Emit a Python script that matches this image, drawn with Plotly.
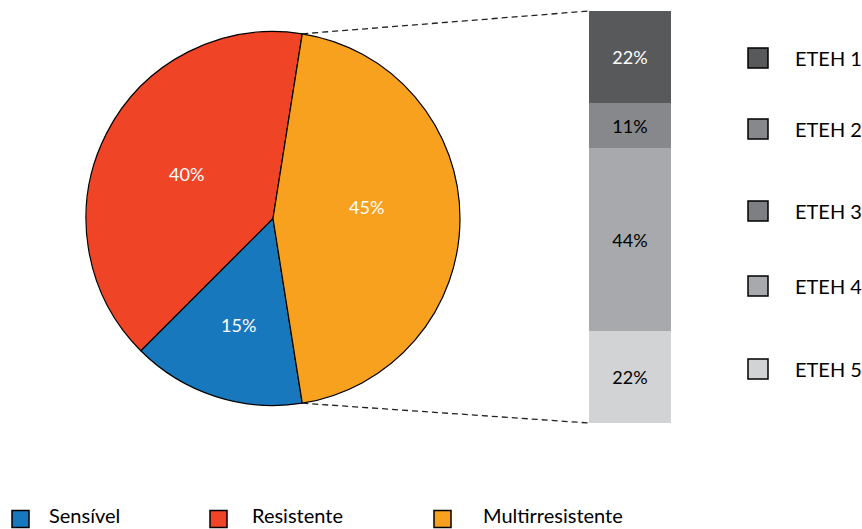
import math
import plotly.graph_objects as go

# Resistance profile of the isolates
profile_labels = ["Sensível", "Resistente", "Multirresistente"]
profile_values = [15, 40, 45]
profile_colors = ["#1878be", "#ef4526", "#f7a11f"]

# Breakdown of the multiresistant group by treatment plant
plant_labels = ["ETEH 1", "ETEH 2", "ETEH 3", "ETEH 4", "ETEH 5"]
plant_values = [22, 11, 0, 44, 22]
plant_colors = ["#58595b", "#86888b", "#7e7f83", "#a7a9ac", "#d1d3d4"]
plant_text_colors = ["white", "black", "black", "black", "black"]

W, H = 862, 529
FONT = "Lato"

def px_x(x):
    return x / W

def px_y(y):
    return 1 - y / H

# pie geometry (pixels)
PIE_CX, PIE_CY, PIE_R = 273, 218.5, 187
ROTATION = 171  # start angle of the first slice, clockwise from 12 o'clock
# radial placement of the percentage labels (fraction of radius) and small nudges
LABEL_RADIUS = [0.6, 0.52, 0.5]
LABEL_NUDGE_Y = [0, 0, -11]

# bar geometry (pixels)
BAR_X0, BAR_X1, BAR_Y0, BAR_Y1 = 589, 671, 11, 423

fig = go.Figure()

fig.add_trace(go.Pie(
    labels=profile_labels,
    values=profile_values,
    marker=dict(colors=profile_colors, line=dict(color="black", width=1.2)),
    sort=False,
    direction="clockwise",
    rotation=ROTATION,
    textinfo="none",
    domain=dict(x=[px_x(PIE_CX - PIE_R), px_x(PIE_CX + PIE_R)],
                y=[px_y(PIE_CY + PIE_R), px_y(PIE_CY - PIE_R)]),
    showlegend=False,
    hoverinfo="label+percent",
))

# percentage labels at the middle angle of each slice
pie_total = sum(profile_values)
angle = ROTATION
for val, rf, ny in zip(profile_values, LABEL_RADIUS, LABEL_NUDGE_Y):
    span = 360 * val / pie_total
    mid = math.radians(angle + span / 2)
    angle += span
    lx = PIE_CX + rf * PIE_R * math.sin(mid)
    ly = PIE_CY - rf * PIE_R * math.cos(mid) + ny
    fig.add_annotation(x=px_x(lx), y=px_y(ly), xref="paper", yref="paper",
                       text=f"{val / pie_total:.0%}", showarrow=False,
                       xanchor="center", yanchor="middle",
                       font=dict(family=FONT, size=18, color="white"))

# stacked bar, bottom segment first
for lab, val, col, tcol in reversed(list(zip(plant_labels, plant_values,
                                             plant_colors, plant_text_colors))):
    fig.add_trace(go.Bar(
        x=[0], y=[val], name=lab,
        marker=dict(color=col, line=dict(width=0)),
        text=[f"{val}%" if val else ""],
        textposition="inside",
        insidetextanchor="middle",
        textangle=0,
        textfont=dict(family=FONT, size=18, color=tcol),
        xaxis="x", yaxis="y",
        showlegend=False,
    ))

total = sum(plant_values)
fig.update_layout(
    width=W, height=H,
    margin=dict(l=0, r=0, t=0, b=0),
    paper_bgcolor="white", plot_bgcolor="white",
    barmode="stack", bargap=0,
    uniformtext=dict(minsize=10, mode="show"),
    xaxis=dict(domain=[px_x(BAR_X0), px_x(BAR_X1)], range=[-0.5, 0.5],
               visible=False, fixedrange=True),
    yaxis=dict(domain=[px_y(BAR_Y1), px_y(BAR_Y0)], range=[0, total],
               visible=False, fixedrange=True),
    font=dict(family=FONT, color="black"),
)

# dashed connectors from the multiresistant slice edges to the bar corners
start_deg = ROTATION + 360 * (profile_values[0] + profile_values[1]) / pie_total
end_deg = start_deg + 360 * profile_values[2] / pie_total
for ang, by in ((start_deg, BAR_Y0), (end_deg, BAR_Y1)):
    a = math.radians(ang)
    x0 = PIE_CX + PIE_R * math.sin(a)
    y0 = PIE_CY - PIE_R * math.cos(a)
    fig.add_shape(type="line", xref="paper", yref="paper",
                  x0=px_x(x0), y0=px_y(y0), x1=px_x(BAR_X0), y1=px_y(by),
                  line=dict(color="#222222", width=1.3, dash="6px,4px"))

# legend for the plants (right side)
plant_legend_y = [58, 129, 211, 286, 369]
SQ = 20
for lab, col, yc in zip(plant_labels, plant_colors, plant_legend_y):
    fig.add_shape(type="rect", xref="paper", yref="paper",
                  x0=px_x(748), x1=px_x(748 + SQ),
                  y0=px_y(yc + SQ / 2), y1=px_y(yc - SQ / 2),
                  fillcolor=col, line=dict(color="black", width=1.5))
    fig.add_annotation(x=px_x(793), y=px_y(yc), xref="paper", yref="paper",
                       text=lab, showarrow=False, xanchor="left", yanchor="middle",
                       font=dict(family=FONT, size=20, color="black"))

# legend for the profiles (bottom)
profile_legend_x = [12, 210, 434]
profile_text_x = [48, 251, 482]
LEG_Y = 519
LEG_TEXT_Y = 515
SQ2 = 17
for lab, col, xs, xt in zip(profile_labels, profile_colors, profile_legend_x, profile_text_x):
    fig.add_shape(type="rect", xref="paper", yref="paper",
                  x0=px_x(xs), x1=px_x(xs + SQ2),
                  y0=px_y(LEG_Y + SQ2 / 2), y1=px_y(LEG_Y - SQ2 / 2),
                  fillcolor=col, line=dict(color="black", width=1.5))
    fig.add_annotation(x=px_x(xt), y=px_y(LEG_TEXT_Y), xref="paper", yref="paper",
                       text=lab, showarrow=False, xanchor="left", yanchor="middle",
                       borderpad=0,
                       font=dict(family=FONT, size=20, color="black"))

fig.write_html("out.html")
